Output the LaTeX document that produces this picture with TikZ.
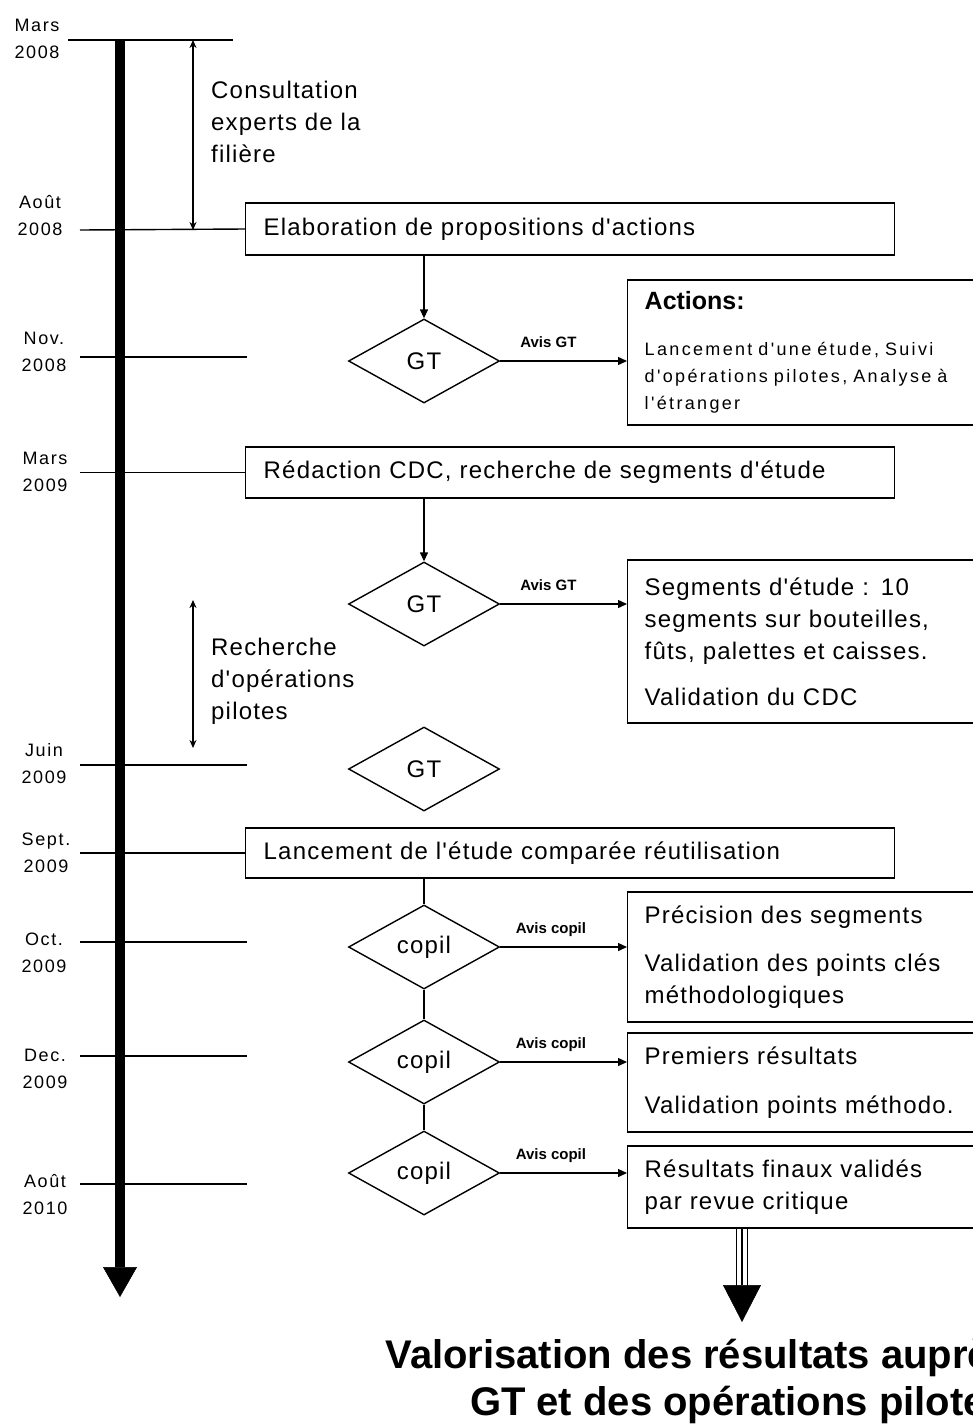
\documentclass[tikz,border=0pt]{standalone}
\usepackage{fontspec}
\setmainfont{Liberation Sans}
\newfontfamily\mainf[LetterSpace=5]{Liberation Sans}
\newfontfamily\smallf[LetterSpace=13]{Liberation Sans}
\newfontfamily\datef[LetterSpace=9]{Liberation Sans}
\usetikzlibrary{shapes.geometric,arrows.meta}

\begin{document}
\begin{tikzpicture}[x=1pt,y=-1pt,
  thin/.style={line width=1.4pt},
  datelbl/.style={align=center,inner sep=0pt,font=\datef\fontsize{18}{27}\selectfont},
  stepbox/.style={draw,thin,rectangle,anchor=west,inner xsep=18pt,inner ysep=0pt,
    minimum height=51pt,text width=613pt,align=left,font=\mainf\fontsize{24}{32}\selectfont},
  notebox/.style={draw,thin,rectangle,anchor=west,inner xsep=17pt,inner ysep=0pt,
    text width=380pt,align=left,font=\mainf\fontsize{24}{32}\selectfont},
  meeting/.style={draw,thin,diamond,inner sep=0pt,minimum width=151pt,minimum height=84pt,
    font=\mainf\fontsize{24}{32}\selectfont},
  arr/.style={thin,-{Triangle[length=9pt,width=8pt]}},
  span/.style={thin,{Stealth[length=8pt,width=7pt]}-{Stealth[length=8pt,width=7pt]}},
  avis/.style={font=\bfseries\fontsize{15}{18}\selectfont,inner sep=0pt,anchor=base,yshift=14pt},
  note/.style={align=left,inner sep=0pt,anchor=west,font=\mainf\fontsize{24}{32}\selectfont}
]
\fill[white] (0,0) rectangle (973,1425);
\useasboundingbox (0,0) rectangle (973,1425);

% time axis
\coordinate (axTop) at (120,40);
\coordinate (axEnd) at (120,1297);
\draw[line width=10pt,-{Triangle[length=30pt,width=34pt,line width=0.5pt]}] (axTop) -- (axEnd);

% dates
\node[datelbl] (dMa08) at (37,39) {Mars\\2008};
\node[datelbl] (dAo08) at (40,216) {Août\\2008};
\node[datelbl] (dNo08) at (44,352) {Nov.\\2008};
\node[datelbl] (dMa09) at (45,472) {Mars\\2009};
\node[datelbl] (dJu09) at (44,764) {Juin\\2009};
\node[datelbl] (dSe09) at (46,853) {Sept.\\2009};
\node[datelbl] (dOc09) at (44,953) {Oct.\\2009};
\node[datelbl] (dDe09) at (45,1069) {Dec.\\2009};
\node[datelbl] (dAo10) at (45,1195) {Août\\2010};

% steps
\node[stepbox,minimum height=52pt] (elab) at (245,229) {Elaboration de propositions d'actions};
\node[stepbox] (redac) at (245,472.5) {Rédaction CDC, recherche de segments d'étude};
\node[stepbox,minimum height=50pt] (lanc) at (245,853) {Lancement de l'étude comparée réutilisation};

% meetings
\node[meeting] (gt1) at (424,361) {GT};
\node[meeting] (gt2) at (424,604) {GT};
\node[meeting] (gt3) at (424,769) {GT};
\node[meeting] (cp1) at (424,947) {copil};
\node[meeting] (cp2) at (424,1062) {copil};
\node[meeting] (cp3) at (424,1173) {copil};

% outcomes
\node[notebox,font=\smallf\fontsize{18}{27}\selectfont,minimum height=145pt] (act) at (627,352.5)
  {{\normalfont\bfseries\fontsize{25}{30}\selectfont Actions:}\\[19pt]
   Lancement d'une étude, Suivi\\d'opérations pilotes, Analyse à\\l'étranger};
\node[notebox,minimum height=163pt] (seg) at (627,641.5)
  {Segments d'étude : 10\\segments sur bouteilles,\\fûts, palettes et caisses.\\[14pt]Validation du CDC};
\node[notebox,minimum height=130pt] (res1) at (627,957)
  {Précision des segments\\[16pt]Validation des points clés\\méthodologiques};
\node[notebox,minimum height=99pt] (res2) at (627,1082.5)
  {Premiers résultats\\[17pt]Validation points méthodo.};
\node[notebox,minimum height=82pt] (res3) at (627,1187)
  {Résultats finaux validés\\par revue critique};

% date ticks
\coordinate (tMa08) at (68,40);   \coordinate (eMa08) at (233,40);
\coordinate (tAo08) at (80,230);
\coordinate (tNo08) at (80,357);  \coordinate (eNo08) at (247,357);
\coordinate (tMa09) at (80,472.5);
\coordinate (tJu09) at (80,765);  \coordinate (eJu09) at (247,765);
\coordinate (tSe09) at (80,853);
\coordinate (tOc09) at (80,942);  \coordinate (eOc09) at (247,942);
\coordinate (tDe09) at (80,1056); \coordinate (eDe09) at (247,1056);
\coordinate (tAo10) at (80,1184); \coordinate (eAo10) at (247,1184);
\draw[thin] (tMa08) -- (eMa08);
\draw[thin] (tAo08) -- (elab.west);
\draw[thin] (tNo08) -- (eNo08);
\draw[thin] (tMa09) -- (redac.west);
\draw[thin] (tJu09) -- (eJu09);
\draw[thin] (tSe09) -- (lanc.west);
\draw[thin] (tOc09) -- (eOc09);
\draw[thin] (tDe09) -- (eDe09);
\draw[thin] (tAo10) -- (eAo10);

% periods
\coordinate (pA1) at (193,40);  \coordinate (pA2) at (193,230);
\draw[span] (pA1) -- (pA2);
\node[note] (consult) at (211,122) {Consultation\\experts de la\\filière};
\coordinate (pB1) at (193,600); \coordinate (pB2) at (193,748);
\draw[span] (pB1) -- (pB2);
\node[note] (recherche) at (211,681) {Recherche\\d'opérations\\pilotes};

% flow
\draw[arr] (elab.south -| gt1.north) -- (gt1.north);
\draw[arr] (redac.south -| gt2.north) -- (gt2.north);
\draw[thin] (lanc.south -| cp1.north) -- (cp1.north);
\draw[thin] (cp1.south) -- (cp2.north);
\draw[thin] (cp2.south) -- (cp3.north);

\draw[arr] (gt1.east) -- (gt1.east -| act.west) node[avis,pos=0.38] {Avis GT};
\draw[arr] (gt2.east) -- (gt2.east -| seg.west) node[avis,pos=0.38] {Avis GT};
\draw[arr] (cp1.east) -- (cp1.east -| res1.west) node[avis,pos=0.40] {Avis copil};
\draw[arr] (cp2.east) -- (cp2.east -| res2.west) node[avis,pos=0.40] {Avis copil};
\draw[arr] (cp3.east) -- (cp3.east -| res3.west) node[avis,pos=0.40] {Avis copil};

% final outcome
\node[font=\bfseries\fontsize{40}{47}\selectfont,align=center,inner sep=0pt] (valo) at (739,1381)
  {Valorisation des résultats auprès des\\GT et des opérations pilotes};
\coordinate (trM) at (742,1228); \coordinate (trTip) at (742,1322);
\coordinate (trL) at (736.5,1228); \coordinate (trLe) at (736.5,1286);
\coordinate (trR) at (747.5,1228); \coordinate (trRe) at (747.5,1286);
\draw[thin] (trL) -- (trLe);
\draw[thin] (trR) -- (trRe);
\draw[thin,-{Triangle[length=37pt,width=38pt,line width=0.5pt]}] (trM) -- (trTip);
\end{tikzpicture}
\end{document}
